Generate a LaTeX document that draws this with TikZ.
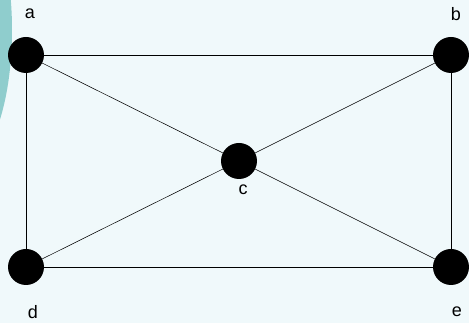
\documentclass[tikz,border=0pt]{standalone}
\usepackage{fontspec}
\setmainfont{Liberation Sans}
\usetikzlibrary{positioning}
\definecolor{bgblue}{RGB}{240,249,251}
\definecolor{tealblob}{RGB}{143,205,205}

\begin{document}
\begin{tikzpicture}[x=0.75pt, y=-0.75pt,
    vertex/.style={circle, fill=black, inner sep=0pt, minimum size=27pt},
    vlabel/.style={font=\fontsize{13.5}{16}\selectfont, inner sep=0pt}]
  % background and side blob
  \fill[bgblue] (0,0) rectangle (469,323);
  \begin{scope}
    \clip (0,0) rectangle (469,323);
    \fill[tealblob] (-40,30) ellipse [x radius=52, y radius=140];
  \end{scope}
  \useasboundingbox (0,0) rectangle (469,323);

  \node[vertex] (a) at (26,55) {};
  \node[vertex] (b) at (451,55) {};
  \node[vertex] (c) at (239,161) {};
  \node[vertex] (d) at (26,267) {};
  \node[vertex] (e) at (451,267) {};

  \node[vlabel] (la) at (30,14) {a};
  \node[vlabel] (lb) at (456,14) {b};
  \node[vlabel] (lc) at (243,190) {c};
  \node[vlabel] (ld) at (33,312) {d};
  \node[vlabel] (le) at (457,312) {e};

  \draw (a) -- (b) (a) -- (d) (b) -- (e) (d) -- (e);
  \draw (a) -- (c) (b) -- (c) (c) -- (d) (c) -- (e);
\end{tikzpicture}
\end{document}
